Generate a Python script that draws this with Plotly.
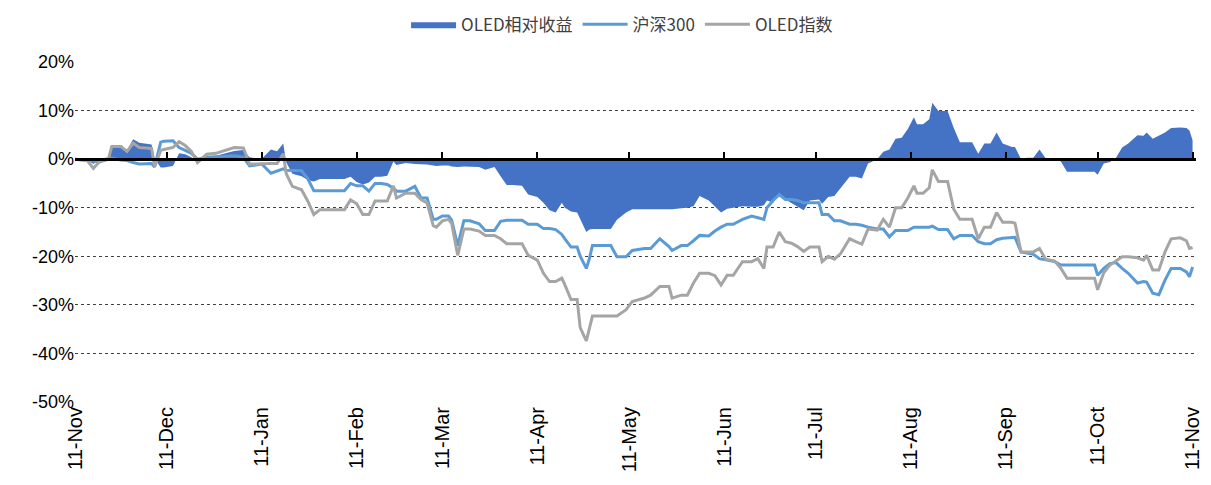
import plotly.graph_objects as go

# daily series (percent)
dates = [
    "2021-11-11", "2021-11-15", "2021-11-17", "2021-11-19", "2021-11-22", "2021-11-23", "2021-11-26", "2021-11-28", "2021-11-30",
    "2021-12-02", "2021-12-06", "2021-12-07", "2021-12-09", "2021-12-10", "2021-12-13", "2021-12-15", "2021-12-17", "2021-12-19",
    "2021-12-21", "2021-12-24", "2021-12-27", "2021-12-30",
    "2022-01-02", "2022-01-05", "2022-01-07", "2022-01-09", "2022-01-11", "2022-01-14", "2022-01-16", "2022-01-18", "2022-01-19",
    "2022-01-21", "2022-01-24", "2022-01-26", "2022-01-28", "2022-01-30",
    "2022-02-07", "2022-02-09", "2022-02-11", "2022-02-13", "2022-02-15", "2022-02-17", "2022-02-19", "2022-02-21", "2022-02-23",
    "2022-02-24", "2022-02-27",
    "2022-03-02", "2022-03-04", "2022-03-06", "2022-03-08", "2022-03-09", "2022-03-11", "2022-03-13", "2022-03-14", "2022-03-16",
    "2022-03-18", "2022-03-20", "2022-03-23", "2022-03-25", "2022-03-28", "2022-03-30",
    "2022-04-01", "2022-04-03", "2022-04-06", "2022-04-08", "2022-04-11", "2022-04-13", "2022-04-15", "2022-04-17", "2022-04-19",
    "2022-04-20", "2022-04-22", "2022-04-24", "2022-04-25", "2022-04-27", "2022-04-28", "2022-04-29",
    "2022-05-01", "2022-05-05", "2022-05-07", "2022-05-10", "2022-05-12", "2022-05-16", "2022-05-18", "2022-05-21", "2022-05-24",
    "2022-05-25", "2022-05-28", "2022-05-30",
    "2022-06-01", "2022-06-03", "2022-06-06", "2022-06-08", "2022-06-10", "2022-06-12", "2022-06-14", "2022-06-17", "2022-06-20",
    "2022-06-22", "2022-06-24", "2022-06-25", "2022-06-27", "2022-06-29",
    "2022-07-01", "2022-07-03", "2022-07-05", "2022-07-07", "2022-07-09", "2022-07-12", "2022-07-13", "2022-07-15", "2022-07-17",
    "2022-07-19", "2022-07-22", "2022-07-24", "2022-07-26", "2022-07-28", "2022-07-31",
    "2022-08-02", "2022-08-04", "2022-08-06", "2022-08-08", "2022-08-10", "2022-08-12", "2022-08-13", "2022-08-15", "2022-08-17",
    "2022-08-18", "2022-08-20", "2022-08-23", "2022-08-25", "2022-08-27", "2022-08-31",
    "2022-09-02", "2022-09-04", "2022-09-06", "2022-09-08", "2022-09-10", "2022-09-13", "2022-09-14", "2022-09-16", "2022-09-18",
    "2022-09-20", "2022-09-22", "2022-09-24", "2022-09-27", "2022-09-29",
    "2022-10-01", "2022-10-10", "2022-10-11", "2022-10-13", "2022-10-15", "2022-10-17", "2022-10-19", "2022-10-21", "2022-10-24",
    "2022-10-26", "2022-10-27", "2022-10-29", "2022-10-31",
    "2022-11-02", "2022-11-04", "2022-11-07", "2022-11-09", "2022-11-10", "2022-11-11",
]

hs300 = [
    0.0, -0.2, -0.4, -0.6, 0.0, 0.2, -0.2, -0.3, -0.7,
    -1.0, -0.9, -1.6, 3.5, 3.7, 3.8, 2.4, 1.8, 1.2, 0.0, 0.4, 0.5, 0.6,
    0.7, 0.4, -1.4, -1.2, -1.0, -2.9, -2.5, -2.0, -2.3, -2.4, -2.4, -4.0, -6.5, -6.5,
    -6.5, -5.0, -5.5, -5.5, -6.6, -5.0, -5.0, -5.2, -6.0, -6.6, -6.6,
    -5.6, -8.0, -8.0, -12.4, -12.4, -11.7, -11.7, -12.5, -17.8, -12.7, -12.7, -13.3, -14.7, -14.7, -12.8,
    -12.6, -12.6, -12.6, -13.4, -13.4, -14.3, -14.3, -14.5, -15.5, -16.4, -18.1, -18.1, -20.0, -22.5, -20.5, -17.8,
    -17.8, -17.8, -20.1, -20.1, -18.8, -18.4, -18.4, -16.4, -18.0, -18.8, -17.8, -17.8,
    -16.8, -15.7, -15.8, -14.8, -14.0, -13.4, -13.4, -12.4, -11.7, -12.0, -12.4, -10.0, -8.5, -7.3,
    -8.3, -8.3, -8.5, -9.0, -9.0, -9.0, -11.4, -11.4, -12.7, -12.7, -13.4, -13.4, -13.6, -14.0, -14.4,
    -14.4, -16.0, -14.7, -14.7, -14.7, -14.0, -14.0, -14.0, -14.0, -13.8, -14.5, -14.5, -16.4, -15.7, -15.7,
    -17.0, -17.4, -17.4, -16.6, -16.3, -16.1, -16.1, -19.1, -19.3, -19.6, -20.5, -20.8, -21.1, -21.8,
    -21.8, -21.8, -23.9, -22.5, -21.5, -21.3, -22.5, -23.5, -25.5, -25.2, -25.3, -27.6, -27.9,
    -24.9, -22.5, -22.5, -23.2, -24.2, -22.2,
]

oled = [
    0.0, -0.3, -1.9, -0.5, 0.2, 2.6, 2.6, 1.6, 3.3,
    2.4, 2.2, -1.5, 1.8, 2.0, 2.4, 3.6, 2.8, 1.6, -0.7, 1.0, 1.2, 1.8,
    2.4, 2.3, -1.0, -1.0, -0.9, -0.9, -0.9, 1.1, -3.0, -5.6, -6.3, -8.6, -11.4, -10.4,
    -10.4, -8.4, -9.2, -11.4, -11.4, -8.6, -8.6, -8.6, -5.5, -8.0, -7.0,
    -7.0, -8.3, -9.0, -13.7, -14.0, -12.7, -12.4, -13.2, -19.8, -14.4, -14.4, -14.8, -15.7, -15.7, -16.4,
    -17.4, -17.4, -17.4, -19.8, -20.8, -23.5, -25.2, -25.2, -24.5, -25.9, -28.9, -28.9, -34.7, -37.4, -34.7, -32.3,
    -32.3, -32.3, -32.3, -31.0, -29.3, -28.6, -28.0, -26.2, -26.2, -28.6, -28.0, -28.0,
    -25.5, -23.5, -23.5, -24.0, -25.9, -23.9, -23.9, -21.1, -21.1, -20.5, -22.5, -18.1, -18.1, -15.0,
    -17.0, -17.3, -18.0, -19.0, -18.1, -18.1, -21.1, -20.0, -20.6, -19.5, -16.4, -17.0, -17.5, -14.4, -14.6,
    -12.4, -14.0, -10.0, -10.0, -8.0, -5.5, -7.0, -7.0, -5.9, -2.2, -4.6, -4.6, -10.3, -12.4, -12.4,
    -16.4, -14.0, -14.0, -11.0, -13.0, -13.0, -13.2, -19.1, -19.1, -19.1, -18.4, -20.6, -21.0, -22.5,
    -24.5, -24.5, -26.9, -23.4, -21.8, -21.0, -20.1, -20.1, -20.3, -20.8, -19.8, -22.8, -22.8,
    -19.1, -16.4, -16.2, -16.8, -18.4, -18.2,
]

relative = [
    0.0, -0.1, -1.0, 0.1, 0.2, 2.4, 2.8, 1.9, 4.1,
    3.4, 3.0, 0.1, -1.7, -1.7, -1.4, 1.2, 1.0, 0.4, -0.7, 0.6, 0.7, 1.2,
    1.7, 1.9, 0.4, 0.2, 0.1, 2.0, 1.6, 3.2, -0.7, -3.0, -3.5, -4.3, -4.6, -4.1,
    -4.1, -3.6, -4.7, -5.2, -4.8, -3.6, -3.6, -3.4, -0.5, -1.2, -0.8,
    -1.0, -1.0, -1.1, -1.3, -1.4, -1.3, -1.3, -1.5, -1.6, -1.5, -1.6, -1.6, -2.2, -1.6, -3.5,
    -5.3, -5.3, -5.5, -7.3, -7.8, -9.0, -10.5, -11.0, -9.0, -10.0, -10.8, -11.0, -12.4, -15.0, -14.5, -14.4,
    -14.4, -14.4, -12.5, -11.0, -10.3, -10.3, -10.3, -10.2, -10.2, -10.3, -10.1, -10.0,
    -9.7, -7.6, -8.5, -9.7, -11.0, -10.2, -10.0, -9.7, -9.8, -9.8, -9.5, -8.5, -9.0, -7.3,
    -8.3, -9.0, -9.8, -10.5, -8.5, -8.3, -9.2, -7.8, -7.6, -6.0, -3.6, -3.6, -4.0, -0.9, 0.0,
    1.5, 2.0, 4.2, 4.4, 6.2, 8.6, 7.2, 7.2, 8.2, 11.6, 9.9, 9.9, 6.4, 3.5, 3.5,
    1.1, 3.2, 3.2, 5.5, 3.2, 2.5, 2.5, 0.0, 0.3, 0.3, 2.0, 0.2, 0.2, -0.5,
    -2.6, -2.6, -3.2, -0.9, -0.6, 0.3, 2.4, 3.2, 4.9, 4.8, 5.5, 4.2, 4.8,
    5.5, 6.4, 6.5, 6.4, 5.9, 3.9,
]

month_ticks = [
    "2021-11-11", "2021-12-11", "2022-01-11", "2022-02-11", "2022-03-11", "2022-04-11", "2022-05-11",
    "2022-06-11", "2022-07-11", "2022-08-11", "2022-09-11", "2022-10-11", "2022-11-11",
]

y_ticks = [20, 10, 0, -10, -20, -30, -40, -50]
y_labels = ["20%", "10%", "0%", "-10%", "-20%", "-30%", "-40%", "-50%"]

x_range = ["2021-11-11", "2022-11-12 03:00"]

fig = go.Figure()

fig.add_trace(go.Scatter(
    x=dates, y=relative, name="OLED相对收益",
    mode="lines", fill="tozeroy",
    line=dict(width=0, color="#4472C4"), fillcolor="#4472C4",
    hoverinfo="skip",
))
fig.add_trace(go.Scatter(
    x=dates, y=hs300, name="沪深300",
    mode="lines", line=dict(color="#5B9BD5", width=3),
    hoverinfo="skip",
))
fig.add_trace(go.Scatter(
    x=dates, y=oled, name="OLED指数",
    mode="lines", line=dict(color="#A5A5A5", width=3),
    hoverinfo="skip",
))
# invisible point so the zero-line axis gets drawn
fig.add_trace(go.Scatter(
    x=[dates[0]], y=[0], xaxis="x2", mode="markers",
    marker=dict(opacity=0), showlegend=False, hoverinfo="skip",
))

# page body has an 8px margin, so the figure is a bit smaller than the window
fig.update_layout(
    width=1195, height=469,
    margin=dict(l=67, r=7, t=54, b=75, autoexpand=False),
    paper_bgcolor="white", plot_bgcolor="white",
    showlegend=True,
    legend=dict(
        orientation="h", x=0.488, xanchor="center",
        y=1.11, yanchor="middle",
        font=dict(family="Noto Sans CJK SC", size=17, color="#404040"),
        itemwidth=45,
    ),
    xaxis=dict(
        type="date", range=x_range, automargin=False,
        tickvals=month_ticks, tickformat="%d-%b", tickangle=-90,
        ticklabeloverflow="allow",
        showgrid=False, showline=False, zeroline=False, ticks="",
        tickfont=dict(family="Liberation Sans, Arial", size=20, color="#000000"),
    ),
    xaxis2=dict(
        type="date", range=x_range, overlaying="x", anchor="free",
        position=50 / 70,
        tickvals=month_ticks, ticks="inside", ticklen=6, tickwidth=2, tickcolor="#000000",
        showticklabels=False, showgrid=False, zeroline=False,
        showline=True, linecolor="#000000", linewidth=3,
    ),
    yaxis=dict(
        range=[-50, 20], tickvals=y_ticks, ticktext=y_labels, automargin=False,
        showgrid=True, gridcolor="#404040", griddash="dot", gridwidth=1,
        zeroline=False, showline=False, ticks="",
        tickfont=dict(family="Liberation Sans, Arial", size=18, color="#000000"),
    ),
)

fig.write_html("out.html")
